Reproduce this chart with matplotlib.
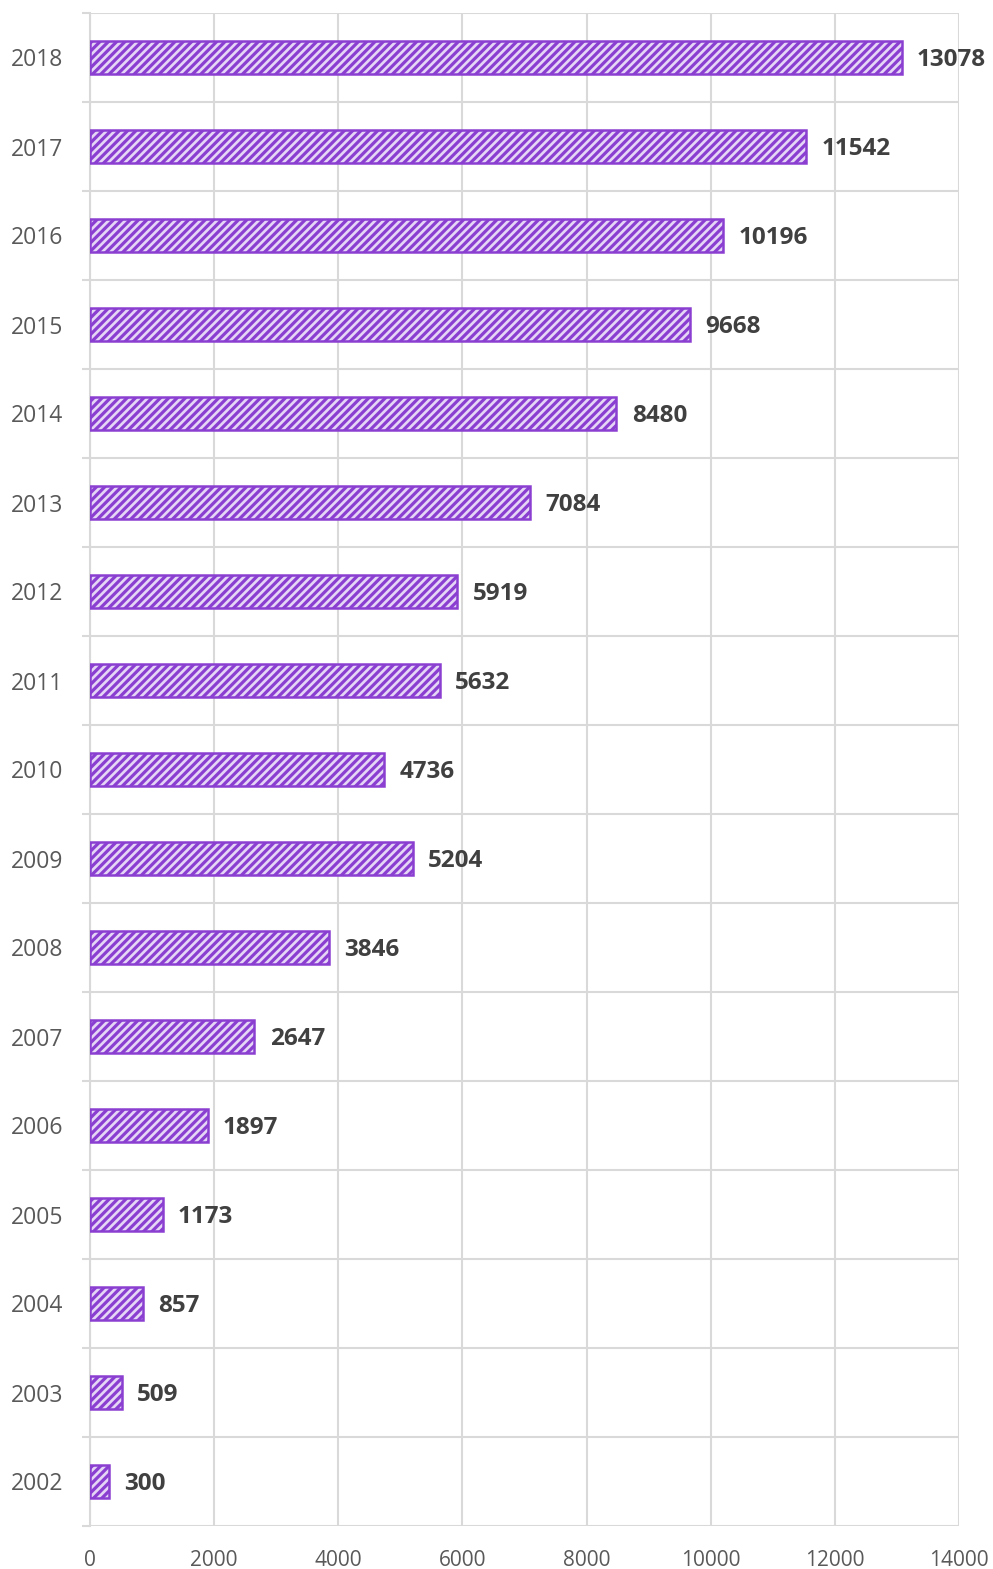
import matplotlib.pyplot as plt
import numpy as np

plt.rcParams['font.family'] = ['Open Sans', 'DejaVu Sans']
plt.rcParams['hatch.linewidth'] = 2.3

YEARS = [str(y) for y in range(2002, 2019)]
VALUES = [300, 509, 857, 1173, 1897, 2647, 3846, 5204, 4736, 5632,
          5919, 7084, 8480, 9668, 10196, 11542, 13078]
X_TICKS = [0, 2000, 4000, 6000, 8000, 10000, 12000, 14000]

PURPLE = '#8a3fd1'
LAVENDER = '#e6d6f6'
GRID = '#d9d9d9'

fig = plt.figure(figsize=(9.93, 15.69), dpi=100)
ax = fig.add_axes([90 / 993, 1 - 1526 / 1569, (959 - 90) / 993, (1526 - 13) / 1569])

pos = np.arange(len(YEARS))
ax.barh(pos, VALUES, height=0.375, color=LAVENDER, edgecolor=PURPLE,
        linewidth=1.8, hatch='////', zorder=3)

for p, v in zip(pos, VALUES):
    ax.annotate(str(v), (v, p), xytext=(11, -2), textcoords='offset points',
                va='center', ha='left', fontsize=17.5, fontweight='bold',
                color='#404040', zorder=4)

ax.set_xlim(0, 14000)
ax.set_ylim(-0.5, len(YEARS) - 0.5)
ax.set_xticks(X_TICKS)
ax.set_xticklabels([str(t) for t in X_TICKS])
ax.set_yticks(pos)
ax.set_yticklabels(YEARS)
ax.set_yticks(np.arange(len(YEARS) + 1) - 0.5, minor=True)

ax.grid(axis='x', color=GRID, linewidth=1.5, zorder=0)
ax.grid(axis='y', which='minor', color=GRID, linewidth=1.5, zorder=0)
ax.tick_params(axis='y', which='major', length=0, pad=19, labelsize=16.5,
               labelcolor='#595959')
ax.tick_params(axis='y', which='minor', length=6, width=1.5, color=GRID)
ax.tick_params(axis='x', length=0, pad=17, labelsize=15, labelcolor='#595959')

for s in ['top', 'right', 'bottom']:
    ax.spines[s].set_visible(False)
ax.spines['left'].set_color(GRID)
ax.spines['left'].set_linewidth(1.5)

fig.savefig('out.png', dpi=100)
